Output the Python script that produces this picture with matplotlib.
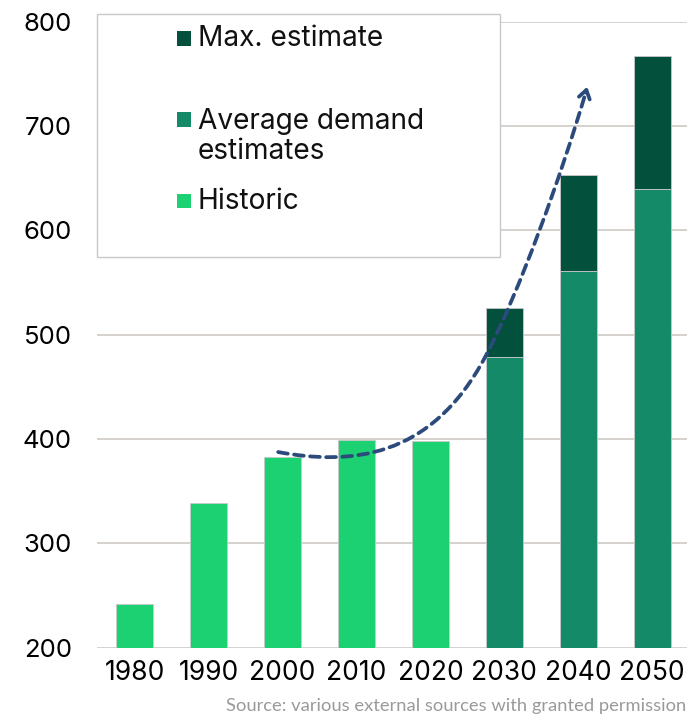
import matplotlib.pyplot as plt
from matplotlib.patches import Rectangle, PathPatch
from matplotlib.path import Path

plt.rcParams['font.family'] = ['Inter', 'DejaVu Sans']

# Data
years = ["1980", "1990", "2000", "2010", "2020", "2030", "2040", "2050"]
historic = [242, 339, 383, 399, 398, 0, 0, 0]
average_demand = [0, 0, 0, 0, 0, 479, 561, 640]
max_estimate = [0, 0, 0, 0, 0, 526, 653, 767]
legend_labels = ["Max. estimate", "Average demand\nestimates", "Historic"]
y_ticks = [200, 300, 400, 500, 600, 700, 800]
source_text = "Source: various external sources with granted permission"

c_hist = "#1BD171"
c_avg = "#158A68"
c_max = "#03503D"
c_arrow = "#2C4A7B"
c_grid = "#D2CEC8"

W, H = 687, 717
fig = plt.figure(figsize=(W / 100, H / 100), dpi=100)
ax = fig.add_axes([97 / W, 1 - 647.7 / H, 1 - 97 / W, (647.7 - 21.6) / H])

x = list(range(len(years)))
extra = [m - a if m else 0 for m, a in zip(max_estimate, average_demand)]

edge = dict(edgecolor="#C9C9C9", linewidth=0.6)
ax.bar(x, historic, width=0.5, color=c_hist, **edge)
ax.bar(x, average_demand, width=0.5, color=c_avg, **edge)
ax.bar(x, extra, width=0.5, bottom=average_demand, color=c_max, **edge)

ax.set_xlim(-0.51, 7.47)
ax.set_ylim(200, 800)
ax.set_yticks(y_ticks)
ax.set_xticks(x)
ax.set_xticklabels(years)
ax.tick_params(axis="y", length=0, pad=18, labelsize=18.5)
ax.tick_params(axis="x", length=0, pad=9, labelsize=19)
ax.set_axisbelow(True)
ax.yaxis.grid(True, color=c_grid, linewidth=1.3)
for s in ax.spines.values():
    s.set_visible(False)

# dashed growth arrow (two cubic bezier pieces)
verts = [(1.94, 387.5), (2.9, 375), (4.0, 380), (4.74, 478.6),
         (5.2, 540), (5.78, 655), (6.10, 732)]
codes = [Path.MOVETO] + [Path.CURVE4] * 6
ax.add_patch(PathPatch(Path(verts, codes), fill=False, edgecolor=c_arrow,
                       linewidth=2.7, linestyle=(0, (2.6, 1.7)), capstyle="round",
                       clip_on=False, zorder=5))
ax.annotate("", xy=(6.12, 737.6), xytext=(6.10, 732),
            arrowprops=dict(arrowstyle="->,head_length=0.6,head_width=0.4",
                            color=c_arrow, lw=2.7, shrinkA=0, shrinkB=0),
            zorder=5)

# legend box drawn by hand (uneven spacing in the original)
fig.patches.append(Rectangle((96.7 / W, 1 - 256.7 / H), (500 - 96.7) / W,
                             (256.7 - 14.3) / H, transform=fig.transFigure,
                             facecolor="white", edgecolor="#C8C8C8",
                             linewidth=1.0, zorder=3))
colors = [c_max, c_avg, c_hist]
marker_y = [38.3, 119.5, 201]
text_y = [45.7, 129.3, 209]
for lab, col, my, ty in zip(legend_labels, colors, marker_y, text_y):
    fig.patches.append(Rectangle((176.7 / W, 1 - (my + 7.2) / H), 14.3 / W, 14.3 / H,
                                 transform=fig.transFigure, facecolor=col,
                                 edgecolor="none", zorder=4))
    first, *rest = lab.split("\n")
    fig.text(198 / W, 1 - ty / H, first, fontsize=20.2, va="baseline",
             ha="left", zorder=4, color="#111111")
    for k, line in enumerate(rest):
        fig.text(198 / W, 1 - (ty + 30 * (k + 1)) / H, line, fontsize=20.2,
                 va="baseline", ha="left", zorder=4, color="#111111")

fig.text(686 / W, 1 - 711 / H, source_text, fontsize=13.2, color="#9A9A9A",
         ha="right", va="baseline", family=["Lato", "DejaVu Sans"])

fig.savefig("out.png", dpi=100)
